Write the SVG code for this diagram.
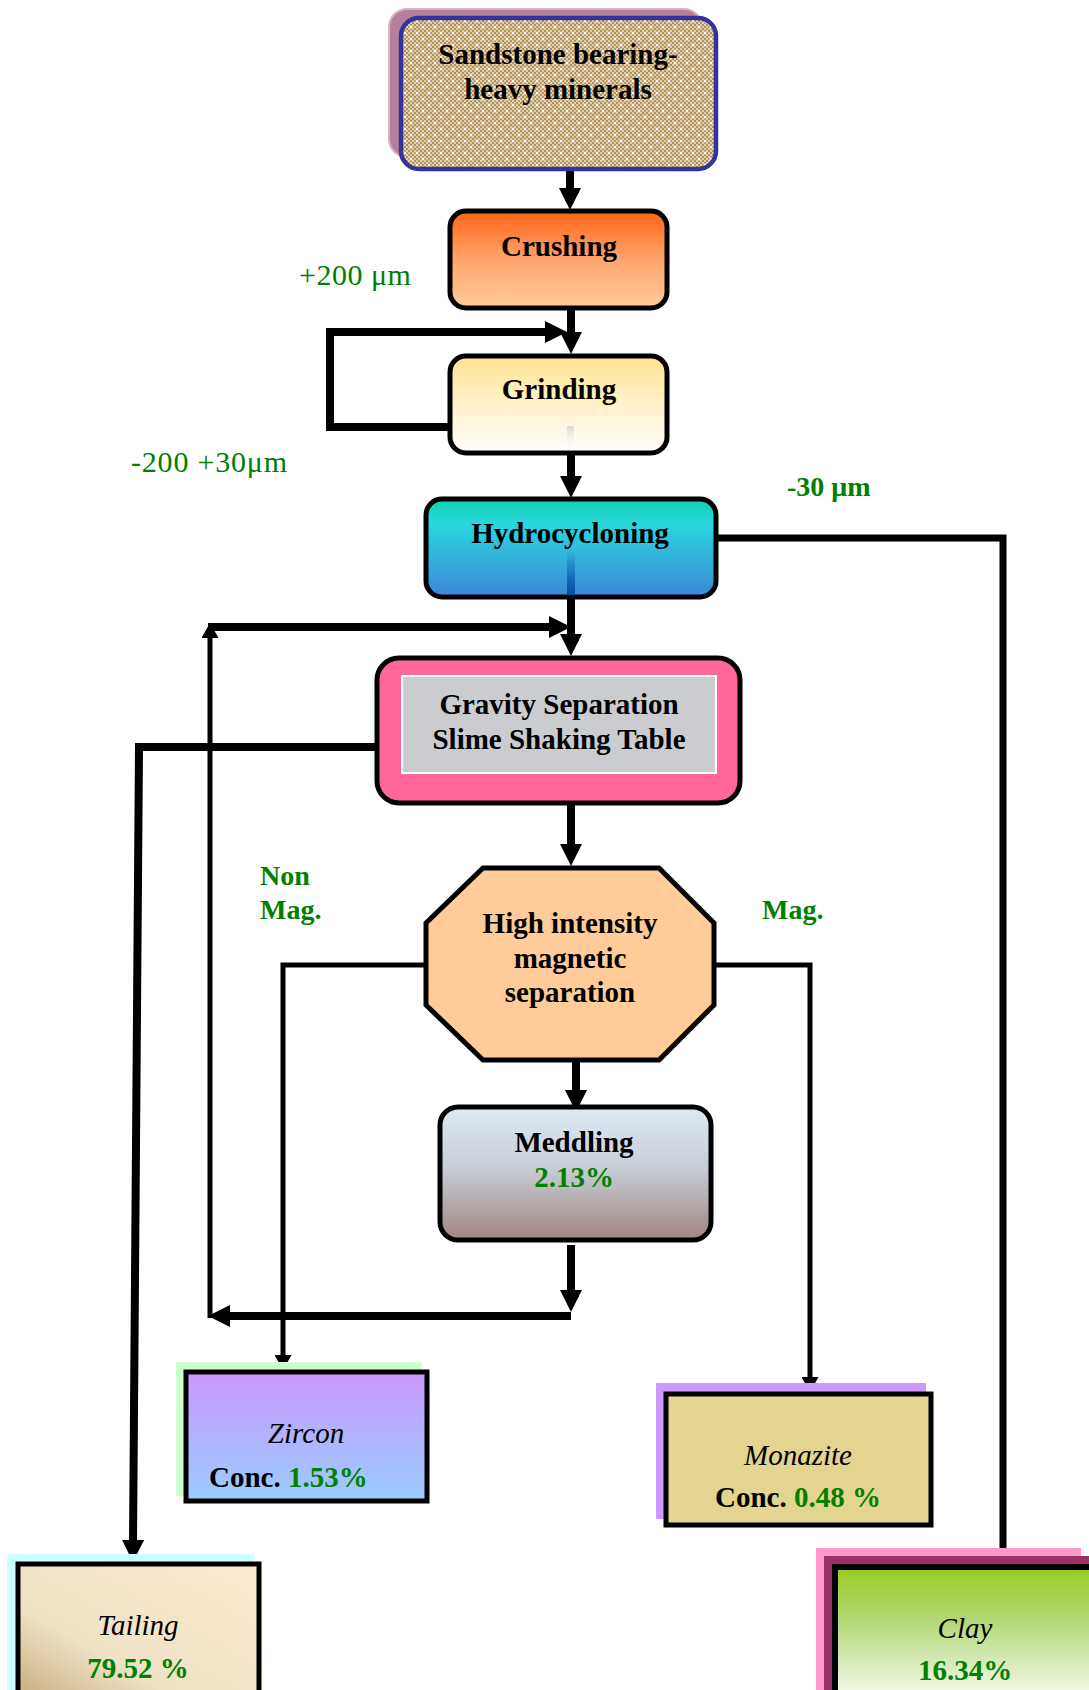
<svg xmlns="http://www.w3.org/2000/svg" width="1089" height="1690" viewBox="0 0 1089 1690">
<style>
.t{font-family:"Liberation Serif","Times New Roman",serif;font-size:29px;font-weight:bold;fill:#000;text-anchor:middle}
.i{font-family:"Liberation Serif","Times New Roman",serif;font-size:29px;font-style:italic;fill:#000;text-anchor:middle}
.g{fill:#008000}
.lbl{font-family:"Liberation Serif","Times New Roman",serif;font-size:30px;fill:#008000}
.lblb{font-family:"Liberation Serif","Times New Roman",serif;font-size:28px;font-weight:bold;fill:#008000}
.box{stroke:#000;stroke-width:5}
.thick{fill:none;stroke:#000;stroke-width:8}
.thin{fill:none;stroke:#000;stroke-width:5}
</style>
<defs>
<pattern id="chk" width="4" height="4" patternUnits="userSpaceOnUse">
<rect width="4" height="4" fill="#b18f5a"/>
<rect width="2" height="2" fill="#e2d2ae"/>
<rect x="2" y="2" width="2" height="2" fill="#e2d2ae"/>
</pattern>
<pattern id="dots" width="12" height="12" patternUnits="userSpaceOnUse">
<circle cx="3" cy="3" r="1.5" fill="#fff"/>
<circle cx="9" cy="9" r="1.5" fill="#fff"/>
</pattern>
<linearGradient id="gCrush" x1="0" y1="0" x2="0" y2="1">
<stop offset="0" stop-color="#ff6414"/><stop offset="0.5" stop-color="#ffa46e"/><stop offset="1" stop-color="#ffcc99"/>
</linearGradient>
<linearGradient id="gGrind" x1="0" y1="0" x2="0" y2="1">
<stop offset="0" stop-color="#ffe393"/><stop offset="1" stop-color="#ffffff"/>
</linearGradient>
<linearGradient id="gHydro" x1="0" y1="0" x2="0" y2="1">
<stop offset="0" stop-color="#0ed2b0"/><stop offset="0.25" stop-color="#2ad7de"/><stop offset="1" stop-color="#3c86d8"/>
</linearGradient>
<linearGradient id="gMed" x1="0" y1="0" x2="0" y2="1">
<stop offset="0" stop-color="#ddeaf6"/><stop offset="0.45" stop-color="#c8ced6"/><stop offset="1" stop-color="#a18582"/>
</linearGradient>
<linearGradient id="gZir" x1="0" y1="0" x2="0" y2="1">
<stop offset="0" stop-color="#cc99ff"/><stop offset="1" stop-color="#99ccff"/>
</linearGradient>
<linearGradient id="gClay" x1="0" y1="0" x2="0" y2="1">
<stop offset="0" stop-color="#99cc22"/><stop offset="0.4" stop-color="#b5d87a"/><stop offset="1" stop-color="#ffffff"/>
</linearGradient>
<linearGradient id="gTail" x1="0" y1="1" x2="1" y2="0">
<stop offset="0" stop-color="#c4aa78"/><stop offset="0.35" stop-color="#eee2c5"/><stop offset="1" stop-color="#fdebcd"/>
</linearGradient>
<linearGradient id="gArtG" x1="0" y1="0" x2="0" y2="1">
<stop offset="0" stop-color="#d8d8d8"/><stop offset="1" stop-color="#ffffff" stop-opacity="0"/>
</linearGradient>
<linearGradient id="gArtH" x1="0" y1="0" x2="0" y2="1">
<stop offset="0" stop-color="#0050a0" stop-opacity="0"/><stop offset="1" stop-color="#0050a0"/>
</linearGradient>
<marker id="ah" viewBox="0 0 22 22" refX="4" refY="11" markerWidth="22" markerHeight="22" markerUnits="userSpaceOnUse" orient="auto">
<path d="M0,0 L22,11 L0,22 z" fill="#000"/>
</marker>
<marker id="as" viewBox="0 0 15 17" refX="3" refY="8.5" markerWidth="15" markerHeight="17" markerUnits="userSpaceOnUse" orient="auto">
<path d="M0,0 L15,8.5 L0,17 z" fill="#000"/>
</marker>
</defs>
<rect width="1089" height="1690" fill="#fff"/>

<g id="connectors">
<path class="thick" d="M570,169 V192" marker-end="url(#ah)"/>
<path class="thick" d="M571,308 V336" marker-end="url(#ah)"/>
<path class="thick" d="M450,427 H330 V332 H549" marker-end="url(#ah)"/>
<path class="thick" d="M571,453 V480" marker-end="url(#ah)"/>
<path class="thick" style="stroke-width:7" d="M716,538 H1003 V1549"/>
<path class="thick" d="M571,597 V638" marker-end="url(#ah)"/>
<path class="thick" d="M571,803 V848" marker-end="url(#ah)"/>
<path class="thick" d="M377,747 H139 L133,1544" marker-end="url(#ah)"/>
<path class="thick" d="M576,1062 V1094" marker-end="url(#ah)"/>
<path class="thick" d="M571,1245 V1294" marker-end="url(#ah)"/>
<path class="thick" d="M571,1316 H226" marker-end="url(#ah)"/>
<path class="thin" d="M210,1318 V635" marker-end="url(#as)"/>
<path class="thick" d="M208,627 H553" marker-end="url(#ah)"/>
<path class="thin" d="M426,965 H283 V1358" marker-end="url(#as)"/>
<path class="thin" d="M714,965 H810 V1380" marker-end="url(#as)"/>
</g>

<g id="labels">
<text class="lbl" x="299" y="285" style="letter-spacing:0.5px">+200 μm</text>
<text class="lbl" x="131" y="472" style="letter-spacing:0.8px">-200 +30μm</text>
<text class="lblb" x="787" y="496">-30 μm</text>
<text class="lblb" x="260" y="885">Non</text>
<text class="lblb" x="260" y="919">Mag.</text>
<text class="lblb" x="762" y="919">Mag.</text>
</g>

<g id="sandstone">
<rect x="389" y="9" width="313" height="148" rx="18" fill="#b5809a" stroke="#d8b4c4" stroke-width="2"/>
<rect x="401" y="18" width="315" height="151" rx="18" fill="url(#chk)"/>
<rect x="401" y="18" width="315" height="151" rx="18" fill="url(#dots)" stroke="#333399" stroke-width="4.5"/>
<text class="t" x="558" y="64">Sandstone bearing-</text>
<text class="t" x="558" y="99">heavy minerals</text>
</g>

<g id="crushing">
<rect class="box" x="450" y="211" width="217" height="97" rx="16" fill="url(#gCrush)"/>
<text class="t" x="559" y="256">Crushing</text>
</g>

<g id="grinding">
<rect class="box" x="450" y="356" width="217" height="97" rx="16" fill="url(#gGrind)"/>
<rect x="567" y="426" width="7" height="25" fill="url(#gArtG)"/>
<text class="t" x="559" y="399">Grinding</text>
</g>

<g id="hydrocycloning">
<rect class="box" x="426" y="499" width="290" height="98" rx="16" fill="url(#gHydro)"/>
<rect x="567" y="550" width="8" height="45" fill="url(#gArtH)"/>
<text class="t" x="570" y="543">Hydrocycloning</text>
</g>

<g id="gravity">
<rect class="box" x="377" y="658" width="363" height="145" rx="22" fill="#ff6699"/>
<rect x="402" y="676" width="314" height="97" fill="#cbccd0" stroke="#fff" stroke-width="2"/>
<text class="t" x="559" y="714">Gravity Separation</text>
<text class="t" x="559" y="749">Slime Shaking Table</text>
</g>

<g id="magnetic">
<polygon class="box" points="483,868 659,868 714,923 714,1005 659,1060 483,1060 426,1005 426,923" fill="#ffcc99"/>
<text class="t" x="570" y="933">High intensity</text>
<text class="t" x="570" y="968">magnetic</text>
<text class="t" x="570" y="1002">separation</text>
</g>

<g id="meddling">
<rect class="box" x="440" y="1107" width="271" height="133" rx="18" fill="url(#gMed)"/>
<text class="t" x="574" y="1152">Meddling</text>
<text class="t g" x="574" y="1187">2.13%</text>
</g>

<g id="zircon">
<rect x="176" y="1362" width="246" height="134" fill="#ccffcc"/>
<rect class="box" x="186" y="1372" width="241" height="129" fill="url(#gZir)"/>
<text class="i" x="306" y="1443">Zircon</text>
<text class="t" x="209" y="1487" style="text-anchor:start">Conc. <tspan class="g">1.53%</tspan></text>
</g>

<g id="monazite">
<rect x="656" y="1383" width="270" height="136" fill="#cc99ff"/>
<rect class="box" x="666" y="1394" width="265" height="131" fill="#e3d590"/>
<text class="i" x="798" y="1465">Monazite</text>
<text class="t" x="798" y="1507">Conc. <tspan class="g">0.48 %</tspan></text>
</g>

<g id="tailing">
<rect x="7" y="1554" width="247" height="150" fill="#ccffff"/>
<rect class="box" x="18" y="1564" width="241" height="140" fill="url(#gTail)"/>
<text class="i" x="138" y="1635">Tailing</text>
<text class="t g" x="138" y="1678">79.52 %</text>
</g>

<g id="clay">
<rect x="816" y="1548" width="265" height="150" fill="#ff99cc"/>
<rect x="824" y="1556" width="280" height="150" fill="#993366"/>
<rect x="835" y="1567" width="270" height="140" fill="url(#gClay)" stroke="#000" stroke-width="6"/>
<text class="i" x="965" y="1638">Clay</text>
<text class="t g" x="965" y="1680">16.34%</text>
</g>
</svg>
